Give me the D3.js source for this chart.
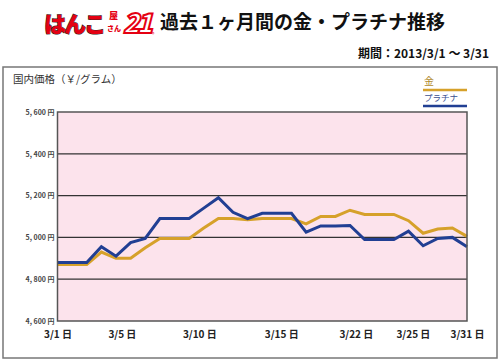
<!DOCTYPE html>
<html><head><meta charset="utf-8">
<script src="https://cdn.jsdelivr.net/npm/d3@7"></script>
<style>
html,body{margin:0;padding:0;background:#fff;}
svg{display:block;font-family:"Noto Sans CJK JP","Noto Sans",sans-serif;}
</style></head>
<body><svg id="c" width="500" height="361"></svg>
<script>
// Data: daily (3/1 .. 3/29), yen per gram
const dates = ["3/1","3/2","3/3","3/4","3/5","3/6","3/7","3/8","3/9","3/10","3/11","3/12","3/13","3/14","3/15","3/16","3/17","3/18","3/19","3/20","3/21","3/22","3/23","3/24","3/25","3/26","3/27","3/28","3/29"];
const gold = [4870,4870,4870,4930,4900,4900,4950,4995,4995,4995,5045,5090,5090,5085,5090,5090,5090,5065,5100,5100,5130,5110,5110,5110,5080,5020,5040,5045,5005];
const platinum = [4880,4880,4880,4955,4910,4975,4995,5090,5090,5090,5140,5190,5120,5090,5115,5115,5115,5025,5055,5055,5057,4990,4990,4990,5030,4960,4995,5000,4955];
const yTicks = [4600,4800,5000,5200,5400,5600];
const xTickLabels = ["3/1 日","3/5 日","3/10 日","3/15 日","3/22 日","3/25 日","3/31 日"];
const xTickAt = [0,4.4,9.7,15.3,20.4,24.3,28];
const seriesNames = ["金","プラチナ"];

const colGold = "#d6a12a", colPt = "#213f93";
const svg = d3.select("#c");
const L = 57.5, R = 467, T = 112, B = 321;

// logo
const logo = svg.append("g");
logo.append("text").attr("x",44).attr("y",32).attr("font-size",22).attr("font-weight",900)
  .attr("fill","#e50012").attr("stroke","#222").attr("stroke-width",1).attr("paint-order","stroke")
  .attr("letter-spacing",-2).text("はんこ");
logo.append("text").attr("x",109).attr("y",19).attr("font-size",9).attr("font-weight",900)
  .attr("fill","#e50012").text("屋");
logo.append("text").attr("x",107).attr("y",31).attr("font-size",7).attr("font-weight",900)
  .attr("fill","#e50012").text("さん");
logo.append("text").attr("x",123).attr("y",33).attr("font-size",27).attr("font-weight",900)
  .attr("font-style","italic").attr("fill","#fff").attr("stroke","#e50012").attr("stroke-width",2)
  .attr("letter-spacing",-3).text("21");
logo.append("text").attr("x",152).attr("y",36).attr("font-size",5).attr("fill","#e50012").text("®");

svg.append("text").attr("x",160).attr("y",29).attr("font-size",19).attr("font-weight",700)
  .attr("fill","#111").text("過去１ヶ月間の金・プラチナ推移");
svg.append("text").attr("x",489).attr("y",58).attr("text-anchor","end").attr("font-size",12)
  .attr("font-weight",700).attr("fill","#111").text("期間：2013/3/1 〜 3/31");

// outer box
svg.append("rect").attr("x",3).attr("y",67).attr("width",494).attr("height",291)
  .attr("fill","#fff").attr("stroke","#777").attr("stroke-width",1.5);
svg.append("text").attr("x",13).attr("y",83).attr("font-size",10.5).attr("fill","#333")
  .text("国内価格（￥/グラム）");

// scales
const x = d3.scalePoint().domain(dates).range([L,R]);
const xi = d3.scaleLinear().domain([0,dates.length-1]).range([L,R]);
const y = d3.scaleLinear().domain([4600,5600]).range([B,T]);

svg.append("rect").attr("x",L).attr("y",T).attr("width",R-L).attr("height",B-T).attr("fill","#fce3ec");
svg.append("g").selectAll("line").data(yTicks.slice(1,-1)).join("line")
  .attr("x1",L).attr("x2",R).attr("y1",d=>y(d)).attr("y2",d=>y(d))
  .attr("stroke","#333").attr("stroke-width",1.2);

const yAxis = svg.append("g").attr("transform",`translate(${L},0)`)
  .call(d3.axisLeft(y).tickValues(yTicks).tickSize(0).tickPadding(3).tickFormat(d=>d3.format(",")(d).replace(",",", ")+" 円"));
yAxis.select(".domain").remove();
yAxis.selectAll("text").attr("font-size",7).attr("font-weight",700).attr("fill","#444")
  .attr("font-family","'Noto Sans CJK JP',sans-serif");

const xAxis = svg.append("g").attr("transform",`translate(0,${B})`)
  .call(d3.axisBottom(xi).tickValues(xTickAt).tickSize(0).tickPadding(10).tickFormat((d,i)=>xTickLabels[i]));
xAxis.select(".domain").remove();
xAxis.selectAll("text").attr("font-size",10).attr("font-weight",700).attr("fill","#222")
  .attr("font-family","'Noto Sans CJK JP',sans-serif");

const line = d3.line().x((d,i)=>x(dates[i])).y(d=>y(d));
svg.append("path").datum(gold).attr("d",line).attr("fill","none").attr("stroke",colGold)
  .attr("stroke-width",3).attr("stroke-linejoin","miter");
svg.append("path").datum(platinum).attr("d",line).attr("fill","none").attr("stroke",colPt)
  .attr("stroke-width",3).attr("stroke-linejoin","miter");

svg.append("rect").attr("x",L).attr("y",T).attr("width",R-L).attr("height",B-T)
  .attr("fill","none").attr("stroke","#555").attr("stroke-width",1.5);

// legend
const lg = svg.append("g");
const lc = [colGold, colPt], ltc = ["#b08a2a","#3a4f8f"];
seriesNames.forEach((n,i)=>{
  lg.append("text").attr("x",424).attr("y",85+i*16).attr("font-size",i?8.5:10).attr("fill",ltc[i]).text(n);
  lg.append("line").attr("x1",423).attr("x2",467).attr("y1",90+i*16).attr("y2",90+i*16)
    .attr("stroke",lc[i]).attr("stroke-width",2.5);
});
</script></body></html>
